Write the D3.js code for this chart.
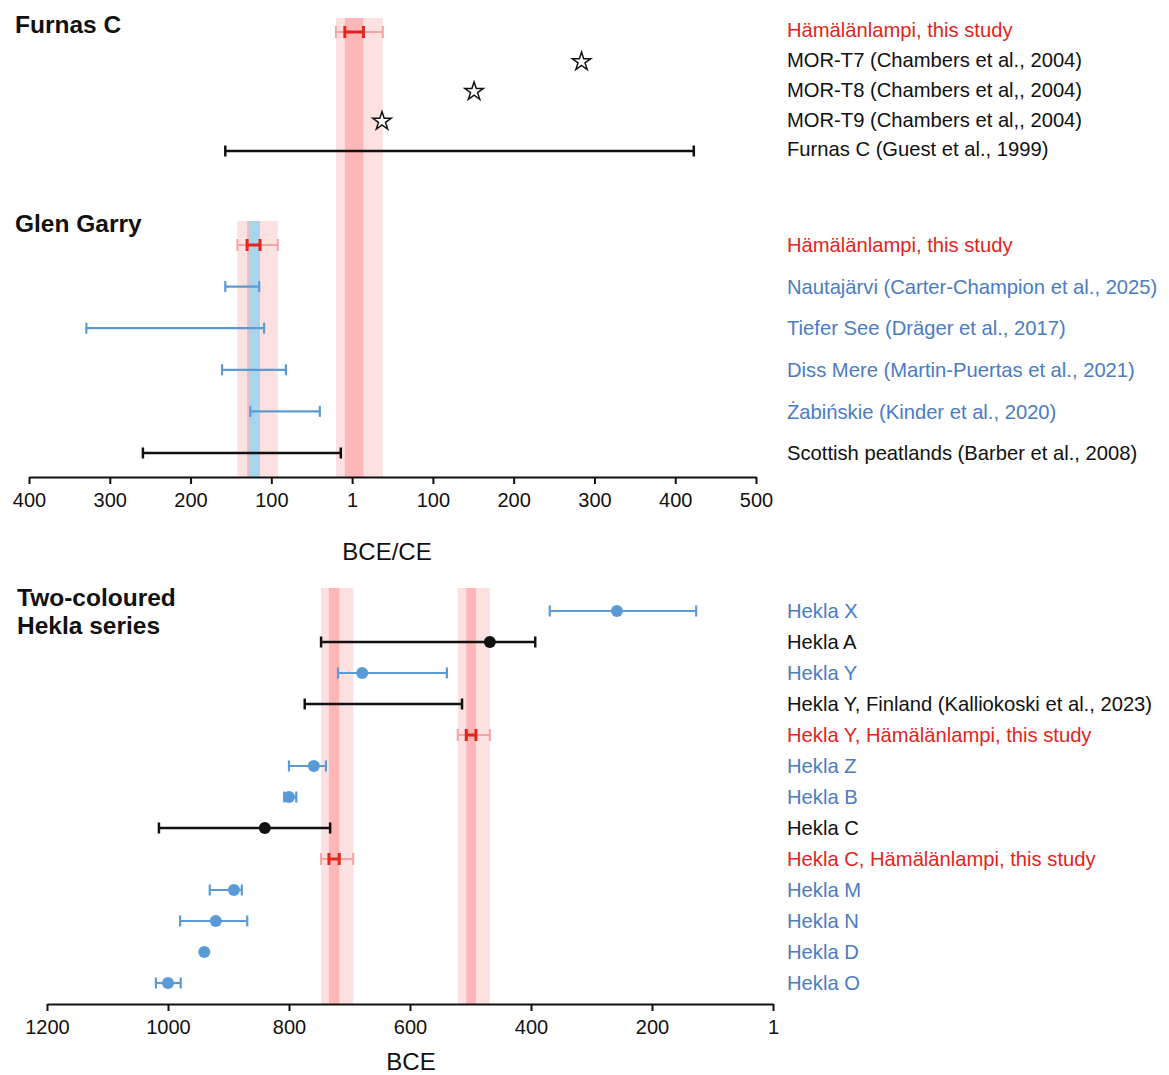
<!DOCTYPE html>
<html>
<head>
<meta charset="utf-8">
<script src="https://cdn.jsdelivr.net/npm/d3@7"></script>
<style>
  body { margin: 0; background: #fff; }
  svg { display: block; }
  text { font-family: "Liberation Sans", Arial, sans-serif; }
</style>
</head>
<body>
<script>
// --- Data (years: top panel CE, negative = BCE; bottom panel BCE) ---

// Furnas C
const furnasLabels = ["Hämälänlampi, this study", "MOR-T7 (Chambers et al., 2004)", "MOR-T8 (Chambers et al,, 2004)", "MOR-T9 (Chambers et al,, 2004)", "Furnas C (Guest et al., 1999)"];
const furnasKinds = ["study", "star", "star", "star", "ref"];
const furnasMid = [null, 284, 151, 37, null];
const furnasLo = [null, null, null, null, -157];
const furnasHi = [null, null, null, null, 423];
const furnasInner = [[-9, 14]];
const furnasOuter = [[-20, 38]];

// Glen Garry
const ggLabels = ["Hämälänlampi, this study", "Nautajärvi (Carter-Champion et al., 2025)", "Tiefer See (Dräger et al., 2017)", "Diss Mere (Martin-Puertas et al., 2021)", "Żabińskie (Kinder et al., 2020)", "Scottish peatlands (Barber et al., 2008)"];
const ggKinds = ["study", "blue", "blue", "blue", "blue", "ref"];
const ggMid = [null, null, null, null, null, null];
const ggLo = [null, -157, -329, -161, -126, -259];
const ggHi = [null, -115, -109, -82, -40, -14];
const ggInner = [[-130, -114]];
const ggOuter = [[-142, -92]];
const ggBlueBand = [-128, -115];

// Two-coloured Hekla series (BCE)
const heklaLabels = ["Hekla X", "Hekla A", "Hekla Y", "Hekla Y, Finland (Kalliokoski et al., 2023)", "Hekla Y, Hämälänlampi, this study", "Hekla Z", "Hekla B", "Hekla C", "Hekla C, Hämälänlampi, this study", "Hekla M", "Hekla N", "Hekla D", "Hekla O"];
const heklaKinds = ["blue", "ref", "blue", "ref", "study", "blue", "blue", "ref", "study", "blue", "blue", "blue", "blue"];
const heklaMid = [258, 468, 679, null, null, 759, 800, 840, null, 891, 921, 940, 1000];
const heklaLo = [369, 747, 719, 774, null, 800, 808, 1015, null, 931, 980, null, 1020];
const heklaHi = [127, 393, 539, 514, null, 739, 788, 732, null, 878, 869, null, 979];
const heklaInner = [[507, 491], [734, 717]];
const heklaOuter = [[521, 468], [747, 694]];

const topTicks = [-400, -300, -200, -100, 0, 100, 200, 300, 400, 500];
const bottomTicks = [1200, 1000, 800, 600, 400, 200, 0];

// --- Colours ---
const RED = "#e3241c";
const RED_PALE = "#f7a3a3";
const BAND_LIGHT = "#fde0e0";
const BAND_DARK = "#ffb6b6";
const BLUE = "#5b9bd5";
const BLUE_TEXT = "#4a7cc4";
const BLUE_BAND = "#a9d5ec";
const BLACK = "#111";
const textColor = { study: RED, blue: BLUE_TEXT, ref: BLACK, star: BLACK };

const width = 1169, height = 1075;
const labelX = 787;

const svg = d3.select("body").append("svg")
  .attr("width", width)
  .attr("height", height);

function rows(labels, kinds, mid, lo, hi) {
  return labels.map((l, i) => ({ label: l, kind: kinds[i], mid: mid[i], lo: lo[i], hi: hi[i] }));
}

// draws one panel: bands, error bars, points and right-hand labels
function drawPanel(data, x, yRange, bandTop, bandBottom, inner, outer, extraBand, labelShift) {
  const y = d3.scalePoint().domain(d3.range(data.length)).range(yRange);
  const g = svg.append("g");

  // shaded bands behind everything
  outer.forEach(r => {
    g.append("rect").attr("x", x(r[0])).attr("width", x(r[1]) - x(r[0]))
      .attr("y", bandTop).attr("height", bandBottom - bandTop).attr("fill", BAND_LIGHT);
  });
  inner.forEach(r => {
    g.append("rect").attr("x", x(r[0])).attr("width", x(r[1]) - x(r[0]))
      .attr("y", bandTop).attr("height", bandBottom - bandTop).attr("fill", BAND_DARK);
  });
  if (extraBand) {
    g.append("rect").attr("x", x(extraBand[0])).attr("width", x(extraBand[1]) - x(extraBand[0]))
      .attr("y", bandTop).attr("height", bandBottom - bandTop).attr("fill", BLUE_BAND);
  }

  function bar(a, b, yy, color, w, cap) {
    g.append("line").attr("x1", x(a)).attr("x2", x(b)).attr("y1", yy).attr("y2", yy)
      .attr("stroke", color).attr("stroke-width", w);
    [a, b].forEach(v => {
      g.append("line").attr("x1", x(v)).attr("x2", x(v)).attr("y1", yy - cap).attr("y2", yy + cap)
        .attr("stroke", color).attr("stroke-width", w);
    });
  }

  let studyIndex = 0;
  data.forEach((d, i) => {
    const yy = y(i);
    if (d.kind === "study") {
      const o = outer[studyIndex], n = inner[studyIndex];
      studyIndex++;
      bar(o[0], o[1], yy, RED_PALE, 2, 6);
      bar(n[0], n[1], yy, RED, 3, 6);
    } else if (d.kind === "star") {
      g.append("path")
        .attr("d", d3.symbol(d3.symbolStar, 105)())
        .attr("transform", `translate(${x(d.mid)},${yy})`)
        .attr("fill", "#fff").attr("stroke", BLACK).attr("stroke-width", 1.5);
    } else {
      const color = d.kind === "blue" ? BLUE : BLACK;
      if (d.lo != null) bar(d.lo, d.hi, yy, color, d.kind === "blue" ? 2.2 : 2.5, 5.5);
      if (d.mid != null) {
        g.append("circle").attr("cx", x(d.mid)).attr("cy", yy).attr("r", 6).attr("fill", color);
      }
    }
    svg.append("text")
      .attr("x", labelX).attr("y", yy + (labelShift || 0)).attr("dy", "0.36em")
      .attr("fill", textColor[d.kind])
      .style("font-size", "20.2px")
      .text(d.label);
  });
}

function drawAxis(x, yPos, ticks, title, titleX, titleY) {
  const axis = d3.axisBottom(x)
    .tickValues(ticks)
    .tickFormat(d => d === 0 ? "1" : Math.abs(d))
    .tickSize(7)
    .tickSizeOuter(0)
    .tickPadding(9);
  const a = svg.append("g").attr("transform", `translate(0,${yPos})`).call(axis);
  a.select(".domain").attr("stroke", BLACK).attr("stroke-width", 2);
  a.selectAll(".tick line").attr("stroke", BLACK).attr("stroke-width", 2);
  a.selectAll(".tick text").attr("fill", BLACK)
    .style("font-size", "20px").style("font-family", '"Liberation Sans", Arial, sans-serif');
  svg.append("text").attr("x", titleX).attr("y", titleY).attr("text-anchor", "middle")
    .attr("dy", "0.36em").attr("fill", BLACK).style("font-size", "24px").text(title);
}

// --- Top chart (BCE/CE) ---
const xTop = d3.scaleLinear().domain([-400, 500]).range([29, 756]);
const topAxisY = 477;

drawPanel(rows(furnasLabels, furnasKinds, furnasMid, furnasLo, furnasHi),
  xTop, [32, 151], 18, topAxisY, furnasInner, furnasOuter, null, -2);
drawPanel(rows(ggLabels, ggKinds, ggMid, ggLo, ggHi),
  xTop, [245, 453], 221, topAxisY, ggInner, ggOuter, ggBlueBand, 0);
drawAxis(xTop, topAxisY, topTicks, "BCE/CE", 387, 551);

// --- Bottom chart (BCE) ---
const xBottom = d3.scaleLinear().domain([1200, 0]).range([47, 773]);
const bottomAxisY = 1004;

drawPanel(rows(heklaLabels, heklaKinds, heklaMid, heklaLo, heklaHi),
  xBottom, [611, 983], 588, bottomAxisY, heklaInner, heklaOuter, null, 0);
drawAxis(xBottom, bottomAxisY, bottomTicks, "BCE", 411, 1061);

// --- Panel titles ---
const titles = [["Furnas C", 15, 24], ["Glen Garry", 15, 223], ["Two-coloured", 17, 597], ["Hekla series", 17, 625]];
svg.selectAll("text.title").data(titles).join("text")
  .attr("class", "title")
  .attr("x", d => d[1]).attr("y", d => d[2]).attr("dy", "0.36em")
  .attr("fill", BLACK)
  .style("font-size", "24.5px").style("font-weight", "bold")
  .text(d => d[0]);
</script>
</body>
</html>
